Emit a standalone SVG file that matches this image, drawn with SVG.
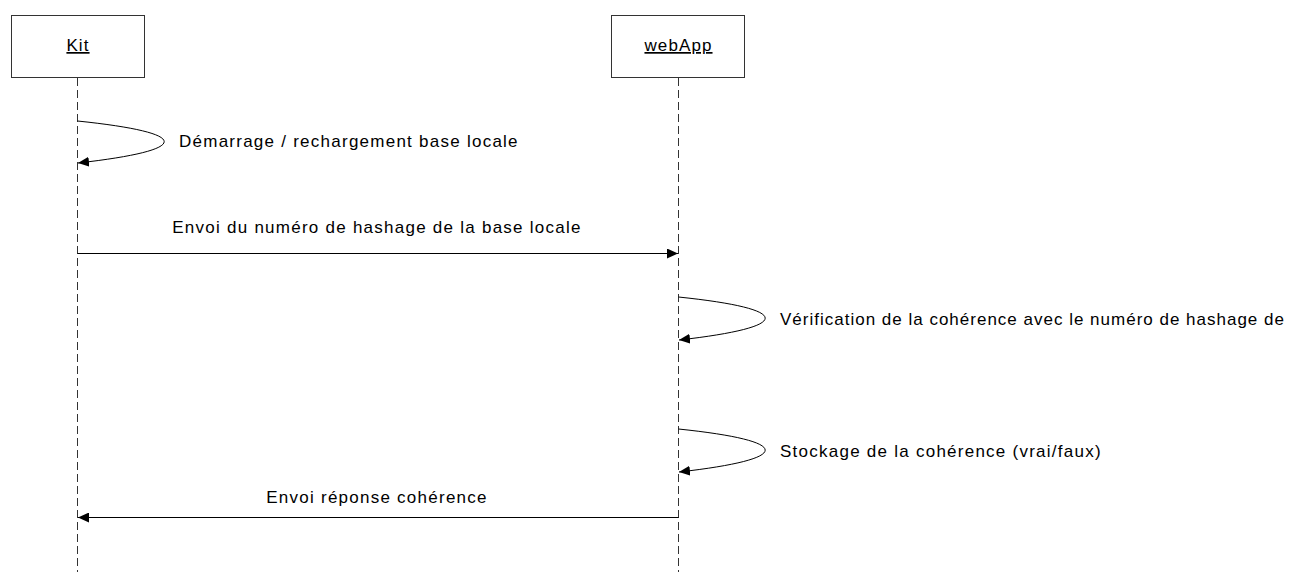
<svg xmlns="http://www.w3.org/2000/svg" width="1289" height="572" viewBox="0 0 1289 572">
  <style>
    .box { fill: #ffffff; stroke: #333333; stroke-width: 1; }
    .life { stroke: #333333; stroke-width: 1; stroke-dasharray: 8 4; fill: none; }
    .msg { stroke: #000000; stroke-width: 1; fill: none; }
    .lbl { font-family: "Liberation Sans", Arial, sans-serif; font-size: 17px; letter-spacing: 1.25px; fill: #000000; }
    .name { font-family: "Liberation Sans", Arial, sans-serif; font-size: 17px; letter-spacing: 1.1px; fill: #000000; text-decoration: underline; text-anchor: middle; }
  </style>
  <defs>
    <marker id="arrow" viewBox="0 0 11 10" refX="11" refY="5" markerWidth="11" markerHeight="10" markerUnits="userSpaceOnUse" orient="auto">
      <path d="M0,0 L11,5 L0,10 Z" fill="#000000"/>
    </marker>
  </defs>

  <rect width="1289" height="572" fill="#ffffff"/>

  <!-- participants -->
  <g id="kit">
    <rect class="box" x="11.5" y="15.5" width="133" height="62"/>
    <text class="name" x="78" y="51">Kit</text>
    <line class="life" x1="77.5" y1="78" x2="77.5" y2="572"/>
  </g>
  <g id="webapp">
    <rect class="box" x="611.5" y="15.5" width="133" height="62"/>
    <text class="name" x="678.5" y="51">webApp</text>
    <line class="life" x1="678.5" y1="78" x2="678.5" y2="572"/>
  </g>

  <!-- messages -->
  <g id="connectors">
    <path class="msg" d="M77.5,121 C193,133 193,150 78,163" marker-end="url(#arrow)"/>
    <line class="msg" x1="77.5" y1="253.5" x2="678" y2="253.5" marker-end="url(#arrow)"/>
    <path class="msg" d="M678.5,297 C794,309 794,327 679,340" marker-end="url(#arrow)"/>
    <path class="msg" d="M678.5,429 C794,441 794,459 679,472" marker-end="url(#arrow)"/>
    <line class="msg" x1="678.5" y1="517.5" x2="78" y2="517.5" marker-end="url(#arrow)"/>
  </g>

  <!-- message labels -->
  <g id="labels">
    <text class="lbl" x="179" y="147">Démarrage / rechargement base locale</text>
    <text class="lbl" x="377" y="233" text-anchor="middle">Envoi du numéro de hashage de la base locale</text>
    <text class="lbl" x="780" y="325" style="letter-spacing:1px">Vérification de la cohérence avec le numéro de hashage de</text>
    <text class="lbl" x="780" y="457">Stockage de la cohérence (vrai/faux)</text>
    <text class="lbl" x="377" y="503" text-anchor="middle">Envoi réponse cohérence</text>
  </g>
</svg>
